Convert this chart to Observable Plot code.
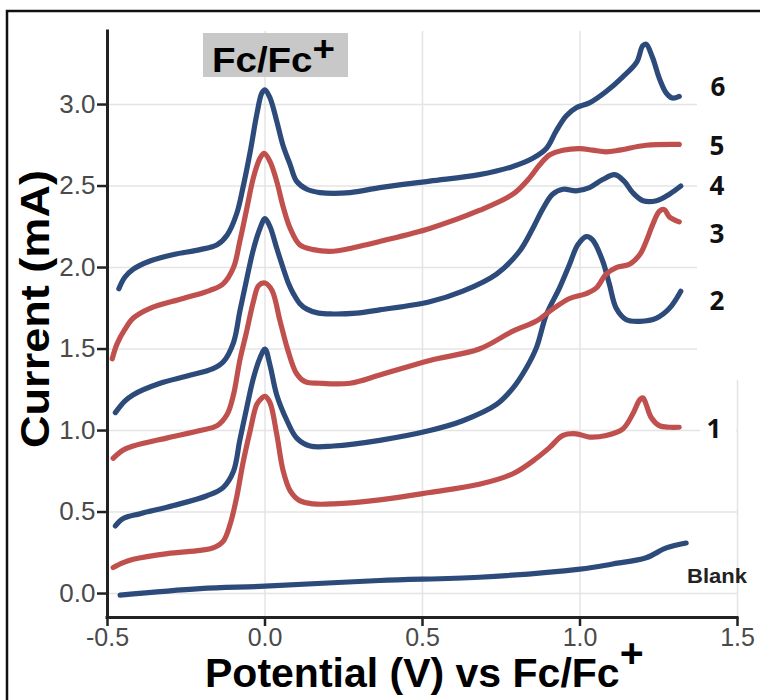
<!DOCTYPE html>
<html>
<head>
<meta charset="utf-8">
<script src="https://cdn.jsdelivr.net/npm/d3@7"></script>
<script src="https://cdn.jsdelivr.net/npm/@observablehq/plot@0.6"></script>
<style>
  html, body { margin: 0; padding: 0; background: #fff; }
  #wrap { position: relative; width: 760px; height: 700px; overflow: hidden; background: #fff; }
  #wrap > svg { position: absolute; left: 0; top: 0; }
</style>
</head>
<body>
<div id="wrap"></div>
<script>
// ---------- data ----------
const xDomain = [-0.5, 1.5];
const yDomain = [-0.147, 3.448];
const xTicks = [-0.5, 0.0, 0.5, 1.0, 1.5];
const yTicks = [0.0, 0.5, 1.0, 1.5, 2.0, 2.5, 3.0];

const seriesNames = ["Blank", "1", "2", "3", "4", "5", "6"];
const seriesColors = ["#2c4a7a", "#c0504d", "#2c4a7a", "#c0504d", "#2c4a7a", "#c0504d", "#2c4a7a"];

const blank = [[-0.46,-0.01],[-0.206,0.03],[0,0.045],[0.364,0.08],[0.68,0.10],[1.0,0.15],[1.1,0.18],[1.21,0.22],[1.274,0.28],[1.337,0.31]];

const curve1 = [[-0.482,0.16],[-0.45,0.19],[-0.418,0.21],[-0.31,0.245],[-0.206,0.265],[-0.165,0.28],[-0.133,0.32],[-0.11,0.43],[-0.09,0.59],[-0.07,0.80],[-0.047,1.0],[-0.026,1.16],[-0.01,1.2],[0,1.21],[0.016,1.17],[0.037,0.98],[0.058,0.75],[0.08,0.63],[0.11,0.57],[0.153,0.55],[0.217,0.55],[0.364,0.575],[0.523,0.62],[0.68,0.67],[0.787,0.735],[0.862,0.83],[0.903,0.895],[0.946,0.97],[0.988,0.98],[1.03,0.96],[1.083,0.97],[1.136,1.01],[1.167,1.10],[1.19,1.19],[1.2,1.20],[1.21,1.16],[1.226,1.08],[1.252,1.03],[1.284,1.02],[1.315,1.02]];

const curve2 = [[-0.475,0.415],[-0.45,0.46],[-0.396,0.49],[-0.29,0.54],[-0.184,0.60],[-0.133,0.65],[-0.1,0.75],[-0.08,0.94],[-0.058,1.14],[-0.037,1.32],[-0.016,1.445],[0,1.50],[0.016,1.40],[0.037,1.22],[0.07,1.06],[0.1,0.955],[0.143,0.905],[0.217,0.905],[0.364,0.94],[0.523,1.0],[0.628,1.06],[0.735,1.16],[0.787,1.26],[0.83,1.385],[0.862,1.51],[0.893,1.71],[0.935,1.875],[0.967,2.02],[0.993,2.14],[1.02,2.19],[1.04,2.17],[1.072,2.04],[1.093,1.90],[1.115,1.75],[1.147,1.68],[1.19,1.67],[1.243,1.69],[1.284,1.75],[1.32,1.855]];

const curve3 = [[-0.482,0.83],[-0.45,0.88],[-0.418,0.905],[-0.31,0.955],[-0.206,1.0],[-0.152,1.03],[-0.12,1.10],[-0.1,1.22],[-0.08,1.43],[-0.058,1.61],[-0.037,1.79],[-0.02,1.89],[0,1.905],[0.022,1.86],[0.048,1.67],[0.073,1.49],[0.1,1.35],[0.127,1.30],[0.174,1.29],[0.27,1.29],[0.364,1.34],[0.523,1.43],[0.68,1.50],[0.787,1.61],[0.86,1.67],[0.913,1.745],[0.967,1.81],[1.02,1.84],[1.052,1.875],[1.083,1.96],[1.115,2.0],[1.157,2.02],[1.19,2.08],[1.21,2.16],[1.23,2.26],[1.252,2.345],[1.268,2.355],[1.284,2.31],[1.315,2.28]];

const curve4 = [[-0.475,1.11],[-0.445,1.18],[-0.418,1.22],[-0.333,1.29],[-0.247,1.335],[-0.165,1.38],[-0.133,1.42],[-0.1,1.54],[-0.08,1.73],[-0.058,1.93],[-0.037,2.11],[-0.016,2.24],[0,2.30],[0.016,2.25],[0.037,2.12],[0.057,2.0],[0.075,1.90],[0.09,1.84],[0.11,1.78],[0.133,1.745],[0.17,1.72],[0.217,1.715],[0.29,1.72],[0.364,1.74],[0.523,1.79],[0.628,1.855],[0.735,1.96],[0.808,2.10],[0.85,2.24],[0.882,2.36],[0.913,2.45],[0.946,2.48],[0.988,2.47],[1.03,2.49],[1.072,2.54],[1.11,2.57],[1.14,2.53],[1.167,2.46],[1.2,2.41],[1.243,2.41],[1.284,2.45],[1.32,2.50]];

const curve5 = [[-0.485,1.44],[-0.47,1.53],[-0.445,1.62],[-0.418,1.69],[-0.365,1.75],[-0.26,1.81],[-0.174,1.86],[-0.133,1.90],[-0.10,2.0],[-0.08,2.16],[-0.058,2.36],[-0.037,2.55],[-0.016,2.67],[-0.003,2.70],[0.016,2.65],[0.037,2.53],[0.058,2.37],[0.08,2.24],[0.11,2.14],[0.153,2.11],[0.217,2.10],[0.322,2.14],[0.364,2.16],[0.523,2.24],[0.68,2.35],[0.787,2.45],[0.84,2.55],[0.872,2.63],[0.903,2.69],[0.946,2.72],[1.0,2.73],[1.04,2.72],[1.083,2.71],[1.125,2.72],[1.21,2.75],[1.315,2.755]];

const curve6 = [[-0.464,1.87],[-0.445,1.94],[-0.418,1.99],[-0.365,2.04],[-0.29,2.08],[-0.206,2.11],[-0.152,2.14],[-0.12,2.20],[-0.09,2.33],[-0.07,2.49],[-0.047,2.71],[-0.026,2.94],[-0.01,3.07],[0.0,3.09],[0.016,3.04],[0.037,2.90],[0.057,2.75],[0.08,2.63],[0.10,2.53],[0.133,2.48],[0.174,2.46],[0.27,2.46],[0.364,2.49],[0.523,2.53],[0.68,2.57],[0.787,2.62],[0.85,2.67],[0.893,2.73],[0.925,2.84],[0.956,2.93],[0.988,2.98],[1.03,3.01],[1.083,3.08],[1.136,3.17],[1.18,3.26],[1.199,3.36],[1.21,3.37],[1.23,3.29],[1.252,3.16],[1.274,3.07],[1.293,3.04],[1.315,3.05]];

const seriesData = [blank, curve1, curve2, curve3, curve4, curve5, curve6];

// ---------- build table ----------
const rows = seriesData.flatMap((pts, i) => pts.map(([x, y]) => ({x, y, name: seriesNames[i]})));
const fmt = d => d.toFixed(1);

const chart = Plot.plot({
  width: 760, height: 640,
  marginLeft: 107, marginRight: 23, marginTop: 31, marginBottom: 23,
  x: {domain: xDomain, axis: null},
  y: {domain: yDomain, axis: null},
  color: {type: "ordinal", domain: seriesNames, range: seriesColors},
  style: {fontFamily: "'Liberation Sans', Arial, sans-serif", background: "transparent", overflow: "visible"},
  marks: [
    Plot.ruleX(xTicks.slice(1), {stroke: "#e4e4e4", strokeWidth: 1.5}),
    Plot.ruleY(yTicks, {stroke: "#e4e4e4", strokeWidth: 1.5}),
    Plot.line(rows, {x: "x", y: "y", z: "name", stroke: "name", strokeWidth: 5.2,
      curve: "catmull-rom", strokeLinecap: "round", strokeLinejoin: "round"}),
    Plot.ruleX([xDomain[0]], {stroke: "#222", strokeWidth: 3, strokeLinecap: "square"}),
    Plot.ruleY([yDomain[0]], {stroke: "#222", strokeWidth: 3, strokeLinecap: "square"}),
    Plot.axisY(yTicks, {anchor: "left", tickSize: 10, tickPadding: 2, strokeWidth: 2.5,
      stroke: "#222", fill: "#4a4a4a", fontSize: 26, tickFormat: fmt, label: null}),
    Plot.axisX(xTicks, {anchor: "bottom", tickSize: 9, tickPadding: 2, strokeWidth: 2.5,
      stroke: "#222", fill: "#4a4a4a", fontSize: 25, tickFormat: fmt, label: null})
  ]
});

const wrap = document.getElementById("wrap");
wrap.appendChild(chart);

// ---------- overlay: frame, title box, axis titles, curve labels ----------
const ov = d3.create("svg").attr("width", 760).attr("height", 700)
  .style("font-family", "'Liberation Sans', Arial, sans-serif");

// white patches where the curve labels were pasted
ov.append("rect").attr("x", 697).attr("y", 24).attr("width", 63).attr("height", 356).attr("fill", "#fff");
ov.append("rect").attr("x", 700).attr("y", 410).attr("width", 36).attr("height", 38).attr("fill", "#fff");

// outer frame (top & left edges visible)
ov.append("path").attr("d", "M7,700 L7,11 L760,11").attr("fill", "none").attr("stroke", "#111").attr("stroke-width", 2.5);

// Fc/Fc+ box
ov.append("rect").attr("x", 203).attr("y", 33).attr("width", 145).attr("height", 44).attr("fill", "#c8c8c8");
const tg = ov.append("g").attr("transform", "translate(212,72) scale(1.1,1)");
const tt = tg.append("text").attr("font-size", 35).attr("font-weight", "bold").attr("fill", "#000");
tt.append("tspan").text("Fc/Fc");
tt.append("tspan").attr("dy", -11).text("+");

// x axis title
const xt = ov.append("text").attr("x", 205).attr("y", 687).attr("font-size", 41)
  .attr("font-weight", "bold").attr("fill", "#000");
xt.append("tspan").text("Potential (V) vs Fc/Fc");
xt.append("tspan").attr("dy", -20).text("+");

// y axis title
ov.append("text").attr("transform", "translate(49,309) rotate(-90)")
  .attr("text-anchor", "middle").attr("font-size", 40).attr("font-weight", "bold")
  .attr("textLength", 278).attr("lengthAdjust", "spacingAndGlyphs").attr("fill", "#000")
  .text("Current (mA)");

// curve labels
const labelNames = ["6", "5", "4", "3", "2", "1"];
const labelPos = [[718, 86], [717, 145], [717, 185], [717, 233], [717, 300], [714, 428]];
labelNames.forEach((t, i) => {
  ov.append("text").attr("x", labelPos[i][0]).attr("y", labelPos[i][1])
    .attr("text-anchor", "middle").attr("dominant-baseline", "central")
    .attr("font-family", "'Open Sans', sans-serif").attr("font-weight", "bold")
    .attr("font-size", 26).attr("fill", "#111").text(t);
});
ov.append("text").attr("x", 687).attr("y", 576).attr("dominant-baseline", "central")
  .attr("font-size", 20).attr("font-weight", "bold").attr("fill", "#222")
  .attr("textLength", 60).attr("lengthAdjust", "spacingAndGlyphs").text("Blank");

wrap.appendChild(ov.node());
</script>
</body>
</html>
